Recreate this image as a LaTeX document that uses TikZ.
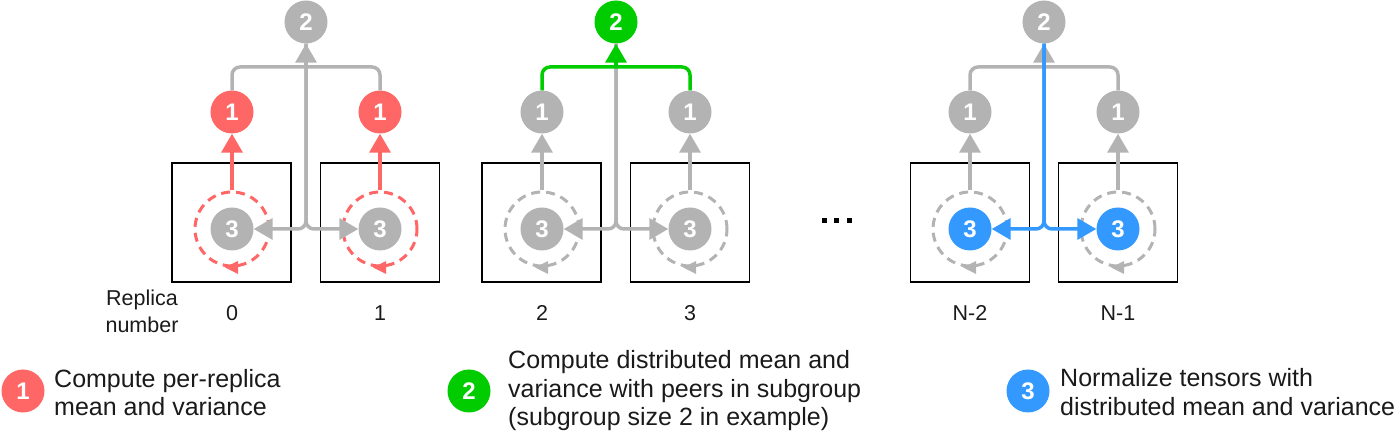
\documentclass[tikz,border=0pt]{standalone}
\usepackage{fontspec}
\setmainfont{Liberation Sans}
\usetikzlibrary{arrows.meta,calc}
\definecolor{cred}{HTML}{FF6666}
\definecolor{cgreen}{HTML}{00CC00}
\definecolor{cblue}{HTML}{3399FF}
\definecolor{cgray}{HTML}{B3B3B3}
\definecolor{ctext}{HTML}{1A1A1A}
\newcommand{\ringtip}[2]{\fill[#2] ($(#1.south)+(-7,0)$) -- ($(#1.south)+(6,-6.5)$) -- ($(#1.south)+(6,6.5)$) -- cycle;}
\begin{document}
\begin{tikzpicture}[x=1pt,y=-1pt,
  num/.style={circle,fill=#1,minimum size=43pt,inner sep=0pt,text=white,font=\fontsize{24}{24}\selectfont\bfseries},
  dring/.style={circle,draw=#1,dash pattern=on 9pt off 6pt,line width=3pt,minimum size=74pt,inner sep=0pt},
  rbox/.style={draw=black,line width=1.5pt,minimum width=119pt,minimum height=119pt,inner sep=0pt},
  link/.style={draw=#1,line width=3.5pt,rounded corners=8pt},
  arr/.style={draw=#1,line width=3.5pt,rounded corners=8pt,-{Triangle[length=19pt,width=21pt]}},
  lbl/.style={font=\fontsize{21.5}{27}\selectfont,inner sep=0pt,align=center,text=ctext},
  leg/.style={font=\fontsize{25}{28.5}\selectfont,inner sep=0pt,align=left,anchor=west,text=ctext},
]
\useasboundingbox (0,0) rectangle (1395,435);

% ---------------- group 1 (replicas 0,1) ----------------
\node[rbox] (bx0) at (231.5,222.5) {};
\node[rbox] (bx1) at (380,222.5) {};
\node[dring=cred] (d0) at (232,229) {};
\node[dring=cred] (d1) at (380,229) {};
\ringtip{d0}{cred}
\ringtip{d1}{cred}
\node[num=cgray] (t0) at (232,229) {3};
\node[num=cgray] (t1) at (380,229) {3};
\node[num=cred] (a0) at (232,112) {1};
\node[num=cred] (a1) at (380,112) {1};
\node[num=cgray] (b01) at (306,22) {2};
\coordinate (j01) at (306,67);
\draw[arr=cred] (d0.north) -- (a0.south);
\draw[arr=cred] (d1.north) -- (a1.south);
\draw[arr=cgray] (b01.south) |- (t0.east);
\draw[arr=cgray] (b01.south) |- (t1.west);
\draw[link=cgray] (a0.north) |- (j01) -| (a1.north);
\draw[arr=cgray] (j01) -- (b01.south);

% ---------------- group 2 (replicas 2,3) ----------------
\node[rbox] (bx2) at (541.5,222.5) {};
\node[rbox] (bx3) at (690,222.5) {};
\node[dring=cgray] (d2) at (542,229) {};
\node[dring=cgray] (d3) at (690,229) {};
\ringtip{d2}{cgray}
\ringtip{d3}{cgray}
\node[num=cgray] (t2) at (542,229) {3};
\node[num=cgray] (t3) at (690,229) {3};
\node[num=cgray] (a2) at (542,112) {1};
\node[num=cgray] (a3) at (690,112) {1};
\node[num=cgreen] (b23) at (616,22) {2};
\coordinate (j23) at (616,67);
\draw[arr=cgray] (d2.north) -- (a2.south);
\draw[arr=cgray] (d3.north) -- (a3.south);
\draw[arr=cgray] (b23.south) |- (t2.east);
\draw[arr=cgray] (b23.south) |- (t3.west);
\draw[link=cgreen] (a2.north) |- (j23) -| (a3.north);
\draw[arr=cgreen] (j23) -- (b23.south);

% ---------------- dots ----------------
\fill[black] (821.5,218.5) rectangle ++(5,5);
\fill[black] (834,218.5) rectangle ++(5,5);
\fill[black] (846.5,218.5) rectangle ++(5,5);

% ---------------- group 3 (replicas N-2,N-1) ----------------
\node[rbox] (bx4) at (970,222.5) {};
\node[rbox] (bx5) at (1118,222.5) {};
\node[dring=cgray] (d4) at (970,229) {};
\node[dring=cgray] (d5) at (1118,229) {};
\ringtip{d4}{cgray}
\ringtip{d5}{cgray}
\node[num=cblue] (t4) at (970,229) {3};
\node[num=cblue] (t5) at (1118,229) {3};
\node[num=cgray] (a4) at (970,112) {1};
\node[num=cgray] (a5) at (1118,112) {1};
\node[num=cgray] (b45) at (1044,22) {2};
\coordinate (j45) at (1044,67);
\draw[arr=cgray] (d4.north) -- (a4.south);
\draw[arr=cgray] (d5.north) -- (a5.south);
\draw[link=cgray] (a4.north) |- (j45) -| (a5.north);
\draw[arr=cgray] (j45) -- (b45.south);
\draw[arr=cblue] (b45.south) |- (t4.east);
\draw[arr=cblue] (b45.south) |- (t5.west);

% ---------------- replica labels ----------------
\node[lbl] (rn) at (142,311.5) {Replica\\number};
\node[lbl] (n0) at (232,313) {0};
\node[lbl] (n1) at (380,313) {1};
\node[lbl] (n2) at (542,313) {2};
\node[lbl] (n3) at (690,313) {3};
\node[lbl] (n4) at (970,313) {N-2};
\node[lbl] (n5) at (1118,313) {N-1};

% ---------------- legend ----------------
\node[num=cred] (l1) at (23,391) {1};
\node[leg] (l1t) at (54,392.5) {Compute per-replica\\mean and variance};
\node[num=cgreen] (l2) at (469,391) {2};
\node[leg] (l2t) at (508,391) {Compute distributed mean and\\variance with peers in subgroup\\(subgroup size 2 in example)};
\node[num=cblue] (l3) at (1028,391) {3};
\node[leg] (l3t) at (1060,392) {Normalize tensors with\\distributed mean and variance};
\end{tikzpicture}
\end{document}
